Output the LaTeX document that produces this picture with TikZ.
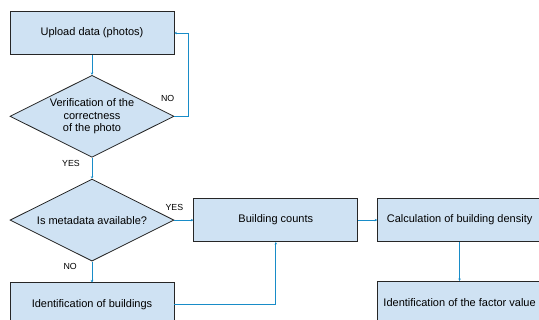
\documentclass[tikz,border=0pt]{standalone}
\usepackage{fontspec}
\setmainfont{Liberation Sans}
\usepackage{xcolor}
\usepackage{tikz}
\usetikzlibrary{shapes.geometric, arrows.meta, positioning}

\definecolor{boxfill}{RGB}{207,226,243}
\definecolor{linkblue}{RGB}{24,140,200}

\begin{document}
\begin{tikzpicture}[
    x=1pt, y=-1pt,
    node distance=20pt and 19pt,
    box/.style={rectangle, draw=black!85, fill=boxfill, line width=0.8pt,
                minimum width=164pt, minimum height=43pt, inner sep=0pt,
                align=center, font=\fontsize{11}{12.5}\selectfont},
    decision/.style={diamond, draw=black!85, fill=boxfill, line width=0.8pt,
                     aspect=2, minimum width=164pt, minimum height=82pt, inner sep=-4pt,
                     align=center, font=\fontsize{11}{12.5}\selectfont},
    arr/.style={-{Stealth[length=2.5pt, width=2.5pt]}, line width=0.8pt, draw=linkblue},
    lbl/.style={inner sep=0pt, font=\fontsize{8.8}{10}\selectfont}
]
\useasboundingbox (0,0) rectangle (539,320);

\node[box] (upload) at (92,33) {Upload data (photos)};
\node[decision, below=of upload] (check) {Verification of the\\correctness\\of the photo};
\node[decision, below=21pt of check] (meta) {Is metadata available?};
\node[box, below=21pt of meta] (ident) {Identification of buildings};
\node[box, right=of meta] (counts) {Building counts};
\node[box, right=of counts] (calc) {Calculation of building density};
\node[box, below=39pt of calc] (factor) {Identification of the factor value};

\draw[arr] (upload) -- (check);
\draw[arr] (check.east) -- ++(14,0) |- (upload.east);
\draw[arr] (check) -- (meta);
\draw[arr] (meta) -- (counts);
\draw[arr] (meta) -- (ident);
\draw[arr] (ident.east) -| (counts.south);
\draw[arr] (counts) -- (calc);
\draw[arr] (calc) -- (factor);

% branch labels
\node[lbl, above left=15pt and 0pt of check.east] (no1) {NO};
\node[lbl, below left=2pt and 12pt of check.south] (yes1) {YES};
\node[lbl, above=9pt of meta.east] (yes2) {YES};
\node[lbl, below left=2pt and 15pt of meta.south] (no2) {NO};
\end{tikzpicture}
\end{document}
